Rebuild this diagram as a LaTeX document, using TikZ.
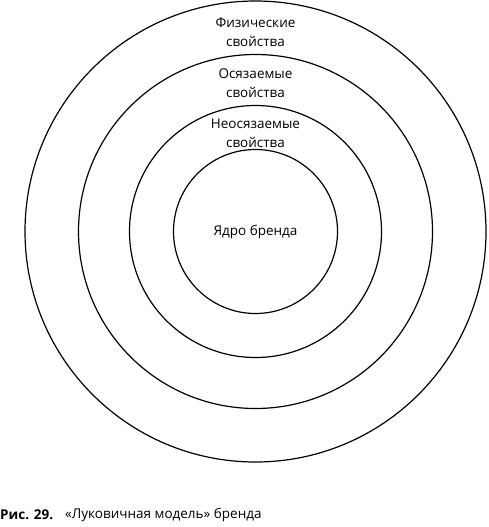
\documentclass[tikz,border=0pt]{standalone}
\usepackage{fontspec}
\setmainfont{Open Sans}
\usetikzlibrary{positioning}
\tikzset{lbl/.style={align=center, inner sep=0pt, font=\fontsize{13.5}{19}\selectfont}}

\begin{document}
\begin{tikzpicture}[x=1pt,y=-1pt]
	\useasboundingbox (0,0) rectangle (488,527);
	\coordinate (c) at (255.5,231.5);
	\foreach \r in {82,126,177,230.5} {\draw[line width=1.2pt] (c) circle (\r);};
	\node[lbl] (core) at (c) {Ядро бренда};
	\node[lbl] (intang) at (255.5,133) {Неосязаемые\\свойства};
	\node[lbl] (tang) at (255.5,83) {Осязаемые\\свойства};
	\node[lbl] (phys) at (255.5,32) {Физические\\свойства};
	\node[lbl, anchor=west] (fig) at (0,515) {\textbf{Рис. 29.}};
	\node[lbl, anchor=west] (cap) at (65,515) {«Луковичная модель» бренда};
\end{tikzpicture}
\end{document}
